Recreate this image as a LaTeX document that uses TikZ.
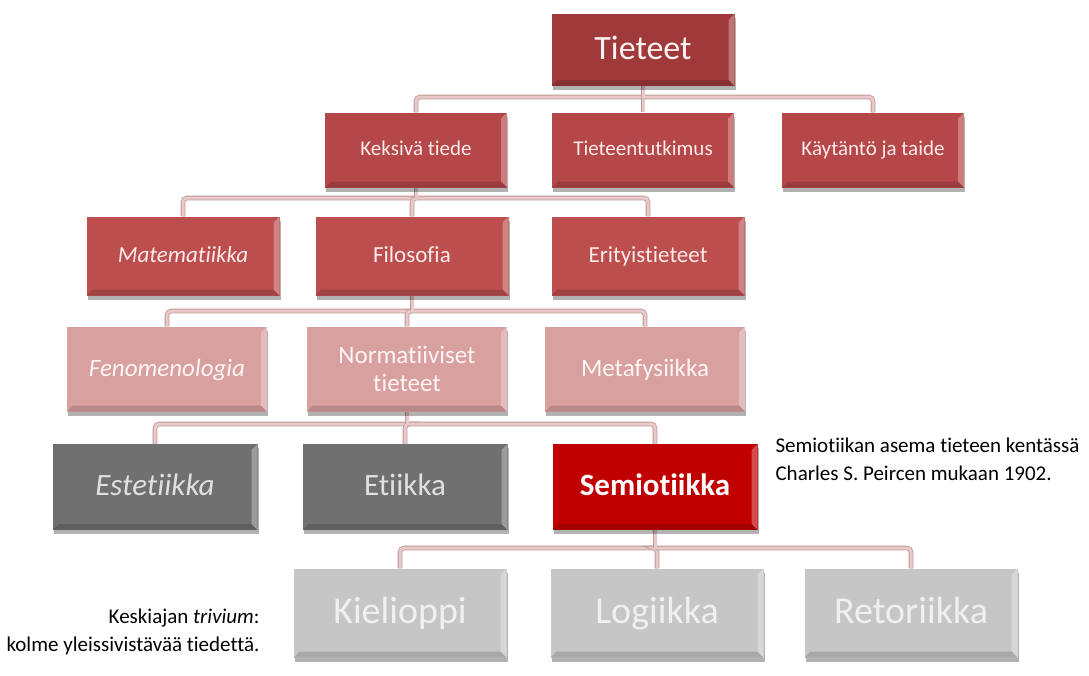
\documentclass[tikz,border=0pt]{standalone}
\usepackage{fontspec}
\setmainfont[Ligatures={NoCommon,NoRequired,NoContextual}]{Carlito}
\usetikzlibrary{shadows,backgrounds}

\definecolor{punainenA}{HTML}{A0393A}
\definecolor{punainenB}{HTML}{B64748}
\definecolor{punainenC}{HTML}{BD4E4E}
\definecolor{roosa}{HTML}{D8A09F}
\definecolor{harmaa}{HTML}{707070}
\definecolor{kirkas}{HTML}{C00000}
\definecolor{vaalea}{HTML}{C6C6C6}
\definecolor{viivaA}{HTML}{BE9A9A}
\definecolor{viivaB}{HTML}{E9C9C9}

\begin{document}
\begin{tikzpicture}[x=1pt, y=-1pt,
  box/.style={rectangle, align=center, inner sep=2pt,
    drop shadow={shadow xshift=1pt, shadow yshift=-4pt, opacity=.3, fill=black},
    path picture={
      \fill[white, opacity=.3] (path picture bounding box.north east) -- ++(-6pt,-6pt)
        -- ([xshift=-6pt,yshift=6pt]path picture bounding box.south east)
        -- (path picture bounding box.south east) -- cycle;
      \fill[black, opacity=.15] (path picture bounding box.south west) -- ++(6pt,6pt)
        -- ([xshift=-6pt,yshift=6pt]path picture bounding box.south east)
        -- (path picture bounding box.south east) -- cycle;
    }},
  taso1/.style={box, fill=punainenA, text=red!5, minimum width=183pt, minimum height=72pt,
    text height=23pt, text depth=4pt, font=\fontsize{34}{38}\selectfont},
  taso2/.style={box, fill=punainenB, text=red!8, minimum width=182pt, minimum height=75pt,
    text height=14.3pt, text depth=2.5pt, font=\fontsize{21}{25}\selectfont},
  taso3/.style={box, fill=punainenC, text=red!8, minimum width=193pt, minimum height=79pt,
    text height=15.6pt, text depth=2.8pt, font=\fontsize{23}{27}\selectfont},
  taso4/.style={box, fill=roosa, text=red!4, minimum width=200pt, minimum height=85pt,
    text height=17pt, text depth=3pt, font=\fontsize{25}{28}\selectfont},
  taso5/.style={box, fill=harmaa, text=black!12, minimum width=205pt, minimum height=86pt,
    text height=21pt, text depth=3.7pt, font=\fontsize{31}{35}\selectfont},
  taso6/.style={box, fill=vaalea, text=black!6, minimum width=213pt, minimum height=89pt,
    text height=25.8pt, text depth=4.6pt, font=\fontsize{38}{42}\selectfont},
  link/.style={draw=viivaA, double=viivaB, line width=.8pt, double distance=3pt},
  huomio/.style={font=\fontsize{21}{28}\selectfont, text=black}]

  \useasboundingbox (0,0) rectangle (1089,675);

  % taso 1
  \node[taso1] (tieteet) at (643,50) {Tieteet};

  % taso 2
  \node[taso2] (keksiva) at (416,150) {Keksivä tiede};
  \node[taso2] (tutkimus) at (643,150) {Tieteentutkimus};
  \node[taso2] (kaytanto) at (873,150) {Käytäntö ja taide};

  % taso 3
  \node[taso3] (matematiikka) at (183,256) {\itshape Matematiikka};
  \node[taso3] (filosofia) at (412,256) {Filosofia};
  \node[taso3] (erityis) at (648,256) {Erityistieteet};

  % taso 4
  \node[taso4] (fenomenologia) at (167,369) {\itshape Fenomenologia};
  \node[taso4, text height={}, text depth={}] (normatiiviset) at (407,369) {Normatiiviset\\tieteet};
  \node[taso4] (metafysiikka) at (645,369) {Metafysiikka};

  % taso 5
  \node[taso5] (estetiikka) at (155,487) {\itshape Estetiikka};
  \node[taso5] (etiikka) at (405,487) {Etiikka};
  \node[taso5, fill=kirkas, text=white, font=\fontsize{31}{35}\selectfont\bfseries] (semiotiikka) at (655,487) {Semiotiikka};

  % taso 6
  \node[taso6] (kielioppi) at (400,613) {Kielioppi};
  \node[taso6] (logiikka) at (657,613) {Logiikka};
  \node[taso6] (retoriikka) at (911,613) {Retoriikka};

  % huomiot
  \node[huomio, anchor=west, align=left] (peirce) at (772,459) {Semiotiikan asema tieteen kentässä\\Charles S. Peircen mukaan 1902.};
  \node[huomio, anchor=east, align=right] (trivium) at (263,632) {Keskiajan \textit{trivium}:\\kolme yleissivistävää tiedettä.};

  % viivat
  \coordinate (v1) at (0,97);
  \coordinate (v2) at (0,198);
  \coordinate (v3) at (0,311);
  \coordinate (v4) at (0,424);
  \coordinate (v5) at (0,548);
  \begin{scope}[on background layer]
    \foreach \c in {keksiva,tutkimus,kaytanto}
      \draw[link, rounded corners=4pt] (tieteet.south |- v1) -| (\c.north);
    \draw[link] (tieteet.south) -- (tieteet.south |- v1);
    \foreach \c in {matematiikka,filosofia,erityis}
      \draw[link, rounded corners=4pt] (keksiva.south |- v2) -| (\c.north);
    \draw[link] (keksiva.south) -- (keksiva.south |- v2);
    \foreach \c in {fenomenologia,normatiiviset,metafysiikka}
      \draw[link, rounded corners=4pt] (filosofia.south |- v3) -| (\c.north);
    \draw[link] (filosofia.south) -- (filosofia.south |- v3);
    \foreach \c in {estetiikka,etiikka,semiotiikka}
      \draw[link, rounded corners=4pt] (normatiiviset.south |- v4) -| (\c.north);
    \draw[link] (normatiiviset.south) -- (normatiiviset.south |- v4);
    \foreach \c in {kielioppi,logiikka,retoriikka}
      \draw[link, rounded corners=4pt] (semiotiikka.south |- v5) -| (\c.north);
    \draw[link] (semiotiikka.south) -- (semiotiikka.south |- v5);
  \end{scope}
\end{tikzpicture}
\end{document}
